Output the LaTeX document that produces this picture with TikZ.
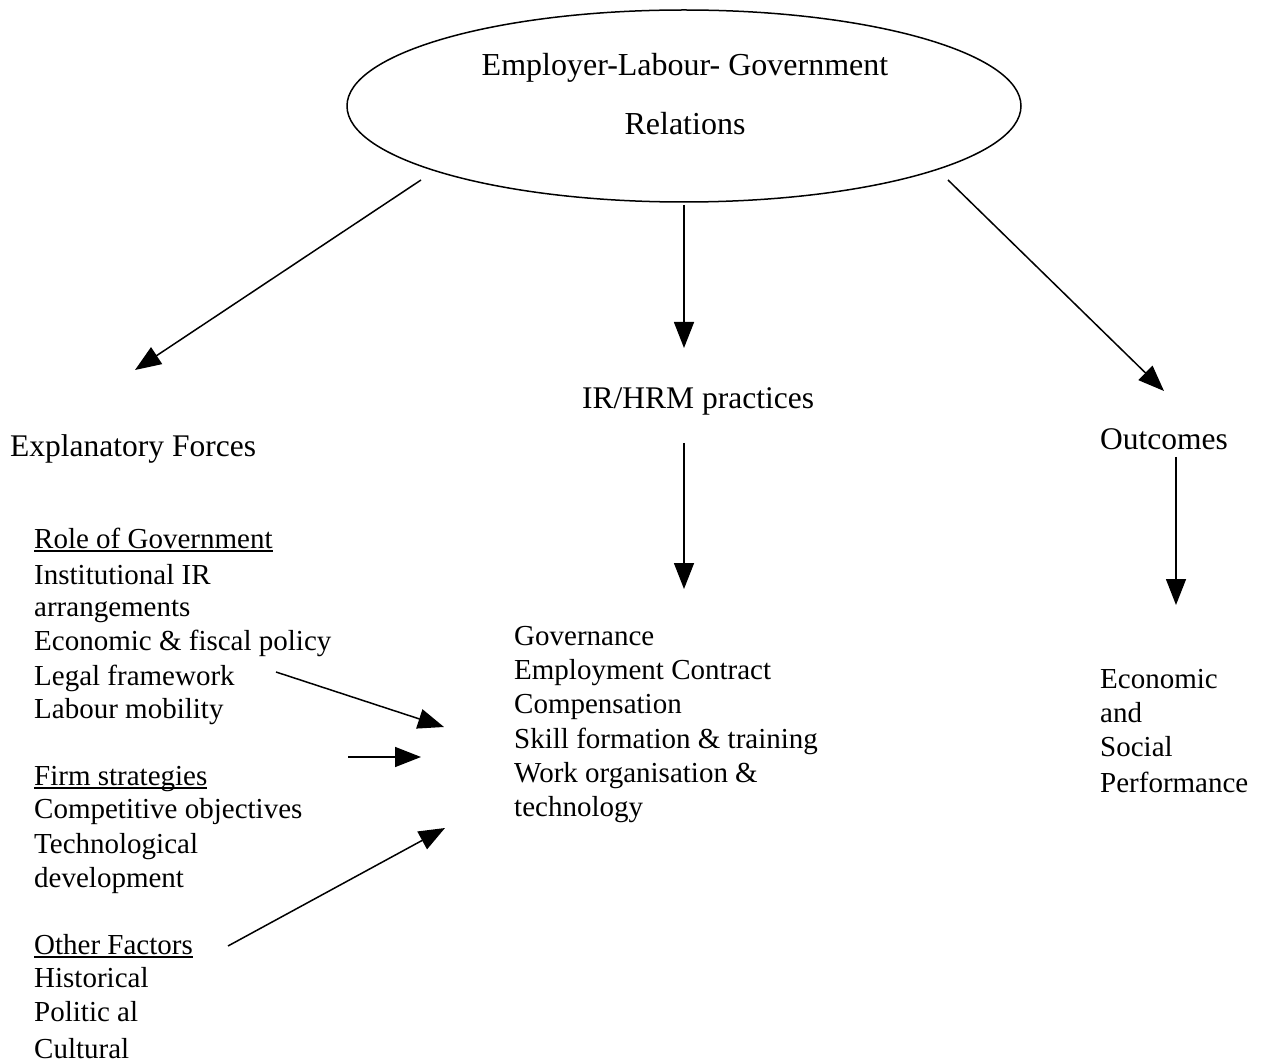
\documentclass[tikz,border=0pt]{standalone}
\usepackage{fontspec}
\setmainfont{Liberation Serif}
\usetikzlibrary{arrows.meta}
% underline at a fixed depth, crossing descenders like a word processor does
\newcommand\ulheading[1]{\setbox0\hbox{#1}\rlap{\rule[-4pt]{\wd0}{1.8pt}}\box0}
\begin{document}
\begin{tikzpicture}[x=1pt,y=-1pt,
  head/.style={font=\fontsize{31.5}{36}\selectfont, inner sep=0pt, anchor=base west},
  item/.style={font=\fontsize{29}{34}\selectfont, inner sep=0pt, anchor=base west},
  link/.style={line width=1.5pt, -{Triangle[length=26pt,width=20pt]}}]
\useasboundingbox (0,0) rectangle (1262,1064);

% central relation ellipse
\draw[line width=1.5pt] (684,106) ellipse [x radius=337, y radius=96];
\node[head, anchor=base, font=\fontsize{32}{36}\selectfont] (rel1) at (685,76) {Employer-Labour- Government};
\node[head, anchor=base, font=\fontsize{32}{36}\selectfont] (rel2) at (685,135) {Relations};

% column headings
\node[head] (forces) at (10,457) {Explanatory Forces};
\node[head] (prac) at (582,409) {IR/HRM practices};
\node[head] (outc) at (1100,450) {Outcomes};

% explanatory forces list
\node[item] (g0) at (34,548) {\ulheading{Role of Government}};
\node[item] (g1) at (34,584) {Institutional IR};
\node[item] (g2) at (34,616) {arrangements};
\node[item] (g3) at (34,650) {Economic \& fiscal policy};
\node[item] (g4) at (34,685) {Legal framework};
\node[item] (g5) at (34,718) {Labour mobility};
\node[item] (f0) at (34,785) {\ulheading{Firm strategies}};
\node[item] (f1) at (34,818) {Competitive objectives};
\node[item] (f2) at (34,853) {Technological};
\node[item] (f3) at (34,887) {development};
\node[item] (o0) at (34,954) {\ulheading{Other Factors}};
\node[item] (o1) at (34,987) {Historical};
\node[item] (o2) at (34,1021) {Politic al};
\node[item] (o3) at (34,1058) {Cultural};

% practices list
\node[item] (p1) at (514,645) {Governance};
\node[item] (p2) at (514,679) {Employment Contract};
\node[item] (p3) at (514,713) {Compensation};
\node[item] (p4) at (514,748) {Skill formation \& training};
\node[item] (p5) at (514,782) {Work organisation \&};
\node[item] (p6) at (514,816) {technology};

% outcomes list
\node[item] (r1) at (1100,688) {Economic};
\node[item] (r2) at (1100,722) {and};
\node[item] (r3) at (1100,756) {Social};
\node[item] (r4) at (1100,792) {Performance};

% connector end points
\coordinate (eL) at (421,180);
\coordinate (eM) at (684,205);
\coordinate (eR) at (948,180);
\coordinate (tL) at (135,370);
\coordinate (tM) at (684,348);
\coordinate (tR) at (1164,391);
\coordinate (pTop) at (684,443);
\coordinate (pBot) at (684,589);
\coordinate (oTop) at (1176,457);
\coordinate (oBot) at (1176,605);
\coordinate (govS) at (276,672);
\coordinate (govT) at (444,727);
\coordinate (firmS) at (348,757);
\coordinate (firmT) at (421,757);
\coordinate (othS) at (228,946);
\coordinate (othT) at (445,828);

\draw[link] (eL) -- (tL);
\draw[link] (eM) -- (tM);
\draw[link] (eR) -- (tR);
\draw[link] (pTop) -- (pBot);
\draw[link] (oTop) -- (oBot);
\draw[link] (govS) -- (govT);
\draw[link] (firmS) -- (firmT);
\draw[link] (othS) -- (othT);
\end{tikzpicture}
\end{document}
